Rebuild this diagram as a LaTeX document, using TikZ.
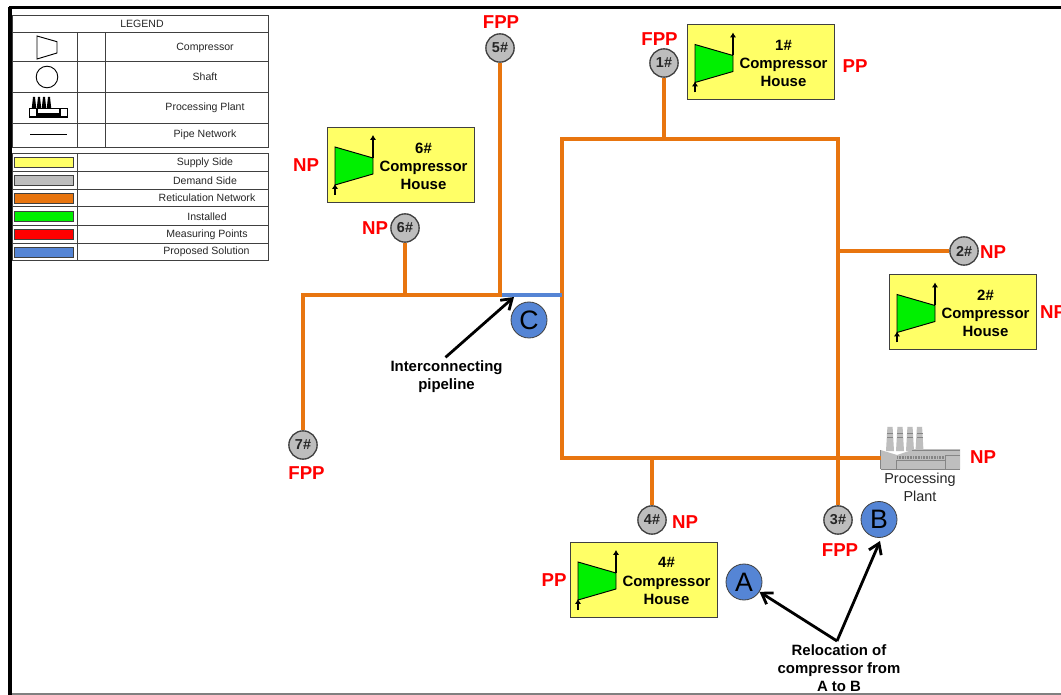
\documentclass[tikz,border=0pt]{standalone}
\usepackage{fontspec}
\setmainfont{Liberation Sans}
\usetikzlibrary{arrows.meta}
\definecolor{pipeor}{HTML}{E8750F}
\definecolor{propblue}{HTML}{5585D5}
\definecolor{suppy}{HTML}{FFFF66}
\definecolor{demgr}{HTML}{BDBDBD}
\definecolor{instgr}{HTML}{00F000}
\definecolor{edgegr}{HTML}{404040}
\definecolor{txtgr}{HTML}{262626}
\definecolor{plantg}{HTML}{BEBEBE}
\definecolor{plantd}{HTML}{858585}
\tikzset{
  x=0.75pt,y=-0.75pt,
  pipe/.style={draw=pipeor,line width=3.2pt},
  bluepipe/.style={draw=propblue,line width=3.2pt},
  shaft/.style={circle,draw=edgegr,line width=1pt,fill=demgr,minimum size=21.2pt,inner sep=0pt,font=\bfseries\fontsize{10.8pt}{11pt}\selectfont,text=txtgr},
  option/.style={circle,draw=edgegr,line width=0.6pt,fill=propblue,minimum size=27pt,inner sep=0pt,font=\fontsize{20pt}{22pt}\selectfont,text=black},
  tag/.style={text=red,font=\bfseries\fontsize{14pt}{15pt}\selectfont,inner sep=0pt},
  house/.style={draw=edgegr,line width=0.7pt,fill=suppy,minimum width=110.5pt,minimum height=56pt,inner sep=0pt},
  housetext/.style={align=center,font=\bfseries\fontsize{11.2pt}{13.6pt}\selectfont,text=black,inner sep=0pt},
  note/.style={align=center,font=\bfseries\fontsize{11.2pt}{13.4pt}\selectfont,text=black,inner sep=0pt},
  callout/.style={draw=black,line width=2.1pt,-{Straight Barb[length=7.5pt,width=10pt,line width=2.1pt]}},
  legrule/.style={draw=edgegr,line width=0.5pt},
  legtext/.style={font=\fontsize{7.9pt}{9pt}\selectfont,text=txtgr,inner sep=0pt},
  swatch/.style={draw=edgegr,line width=0.7pt,minimum width=44pt,minimum height=7.5pt,inner sep=0pt},
  comp/.style={draw=black,line width=0.7pt,fill=instgr},
  stem/.style={draw=black,line width=0.8pt,-{Latex[length=3.6pt,width=4.6pt]}},
}
\newcommand{\comphouse}[3]{% x,y of top-left, number
  \node[house,anchor=north west] (box#3) at (#1,#2) {};
  \draw[comp] (#1+8,#2+20) -- (#1+46,#2+31) -- (#1+46,#2+47) -- (#1+8,#2+58) -- cycle;
  \draw[stem] (#1+46,#2+31) -- (#1+46,#2+8);
  \draw[stem] (#1+8,#2+68) -- (#1+8,#2+57);
  \node[housetext] (lab#3) at (#1+96.5,#2+39) {#3\#\\Compressor\\House};
}
\begin{document}
\begin{tikzpicture}
\useasboundingbox (0,0) rectangle (1061,695);
\clip (0,0) rectangle (1061,695);
\fill[white] (0,0) rectangle (1061,695);
% page frame
\draw[black,line width=0.75pt] (8,7) -- (8,695);
\draw[black,line width=2pt] (10.8,695) -- (10.8,7.5) -- (1061,7.5);
\draw[gray,line width=0.8pt] (12,694) -- (1061,694);

% legend upper table
\draw[legrule] (12,15.5) rectangle (268,147);
\foreach \yy in {32.7,61.7,92.3,123.3} \draw[legrule] (12,\yy) -- (268,\yy);
\draw[legrule] (77.5,32.7) -- (77.5,147);
\draw[legrule] (105.5,32.7) -- (105.5,147);
\node[legtext] (l0) at (142,24) {LEGEND};
\node[legtext] (l1) at (205,47.5) {Compressor};
\node[legtext] (l2) at (205,77) {Shaft};
\node[legtext] (l3) at (205,107.5) {Processing Plant};
\node[legtext] (l4) at (205,134.5) {Pipe Network};
\draw[black,line width=0.7pt] (37,36) -- (57,41.7) -- (57,53) -- (37,59) -- cycle;
\node[circle,draw=black,line width=0.7pt,minimum size=16.2pt,inner sep=0pt] (legshaft) at (47,77) {};
% legend plant icon
\foreach \xx in {34,39,44,49} \fill[black] (\xx-2.2,108) -- (\xx-1,97) -- (\xx+1,97) -- (\xx+2.2,108) -- cycle;
\draw[black,line width=1.1pt,fill=white] (29.5,108.5) rectangle (67.5,117);
\fill[black] (37,113) rectangle (60,116);
\draw[black,line width=1pt] (37,108.5) -- (37,116) (60,108.5) -- (60,116);
\draw[black,line width=0.8pt] (30,134.5) -- (67,134.5);

% legend lower table
\draw[legrule] (12,153.5) rectangle (268,260.7);
\foreach \yy in {171,189,206.7,225,243} \draw[legrule] (12,\yy) -- (268,\yy);
\draw[legrule] (77.5,153.5) -- (77.5,260.7);
\node[swatch,fill=suppy] (s1) at (44,162) {};
\node[swatch,fill=demgr] (s2) at (44,180) {};
\node[swatch,fill=pipeor] (s3) at (44,198) {};
\node[swatch,fill=instgr] (s4) at (44,216) {};
\node[swatch,fill=red] (s5) at (44,234) {};
\node[swatch,fill=propblue] (s6) at (44,252) {};
\node[legtext] (t1) at (205,163) {Supply Side};
\node[legtext] (t2) at (205,180.5) {Demand Side};
\node[legtext] (t3) at (207,197.5) {Reticulation Network};
\node[legtext] (t4) at (207,216.5) {Installed};
\node[legtext] (t5) at (207,234.5) {Measuring Points};
\node[legtext] (t6) at (206.5,252) {Proposed Solution};

% junction coordinates
\coordinate (nw) at (562,139);
\coordinate (ne) at (838,139);
\coordinate (sw) at (562,458);
\coordinate (se) at (838,458);
\coordinate (j1) at (664,139);
\coordinate (j2) at (838,251);
\coordinate (j4) at (652,458);
\coordinate (jc) at (562,295);
\coordinate (j5) at (500,295);
\coordinate (j6) at (405,295);
\coordinate (j7) at (303,295);
\coordinate (tipc) at (514,297);
\coordinate (tipb) at (880,541);
\coordinate (relocfoot) at (837,641);

% shaft nodes
\node[shaft] (s5n) at (500,48) {5\#};
\node[shaft] (s1n) at (664,63) {1\#};
\node[shaft] (s6n) at (405,228) {6\#};
\node[shaft] (s2n) at (964,251) {2\#};
\node[shaft] (s7n) at (303,445) {7\#};
\node[shaft] (s4n) at (652,520) {4\#};
\node[shaft] (s3n) at (838,520) {3\#};

% processing plant
\coordinate (plantw) at (881,458);
\foreach \xx in {890,900,910,919.5} {
  \fill[plantg] (\xx-4,451) -- (\xx-2.6,427) -- (\xx+2.6,427) -- (\xx+4,451) -- cycle;
  \draw[plantd,line width=0.4pt] (\xx-3,437) -- (\xx+3,437) (\xx-3,433) -- (\xx+3,433);
}
\fill[plantg] (880.5,450) -- (897,455) -- (912,450) -- (915,449) -- (960,449) -- (960,469) -- (880.5,469) -- cycle;
\draw[plantd,line width=0.4pt] (896,460) -- (945,460) (896,460) -- (896,469) (945,455) -- (945,469) (945,455) -- (960,455);
\draw[plantd,line width=1.6pt,dash pattern=on 0.6pt off 0.6pt] (897,457.5) -- (945,457.5);
\draw[plantd,line width=0.5pt] (912,450) -- (960,450) (880.5,469) -- (960,469) (880.5,450) -- (880.5,469);
\node[font=\fontsize{10.8pt}{13.4pt}\selectfont,align=center,text=txtgr,inner sep=0pt] (plantlab) at (920,487) {Processing\\Plant};

% pipes
\draw[pipe,line join=miter] (nw) -- (ne) -- (se) -- (sw) -- cycle;
\draw[pipe] (s1n) -- (j1);
\draw[pipe] (j2) -- (s2n);
\draw[pipe] (se) -- (s3n);
\draw[pipe] (se) -- (plantw);
\draw[pipe] (j4) -- (s4n);
\draw[bluepipe] (j5) -- (jc);
\draw[pipe,line join=miter] (s5n) -- (j5) -- (j7) -- (s7n);
\draw[pipe] (s6n) -- (j6);

% compressor houses
\comphouse{687}{24.5}{1}
\comphouse{327}{127}{6}
\comphouse{889}{274.5}{2}
\comphouse{570}{542}{4}

% options
\node[option] (C) at (529,320) {C};
\node[option] (B) at (879,519.5) {B};
\node[option] (A) at (744,582) {A};

% tags
\node[tag] (tg5) at (501,22) {FPP};
\node[tag] (tg1) at (659.5,39) {FPP};
\node[tag] (tg1b) at (855,66) {PP};
\node[tag] (tg6b) at (306,165.5) {NP};
\node[tag] (tg6) at (375,228) {NP};
\node[tag] (tg2) at (993,252) {NP};
\node[tag] (tg2b) at (1053,312) {NP};
\node[tag] (tg7) at (306.5,473) {FPP};
\node[tag] (tgp) at (983,457) {NP};
\node[tag] (tg4) at (685,522) {NP};
\node[tag] (tg3) at (840,550) {FPP};
\node[tag] (tg4b) at (554,580) {PP};

% notes and callouts
\node[note] (inter) at (446.5,376.5) {Interconnecting\\pipeline};
\node[note] (reloc) at (839,668) {Relocation of\\compressor from\\A to B};
\draw[callout] (inter.north) ++(-1,-3) -- (tipc);
\draw[callout] (relocfoot) -- (A);
\draw[callout] (relocfoot) -- (tipb);
\end{tikzpicture}
\end{document}
